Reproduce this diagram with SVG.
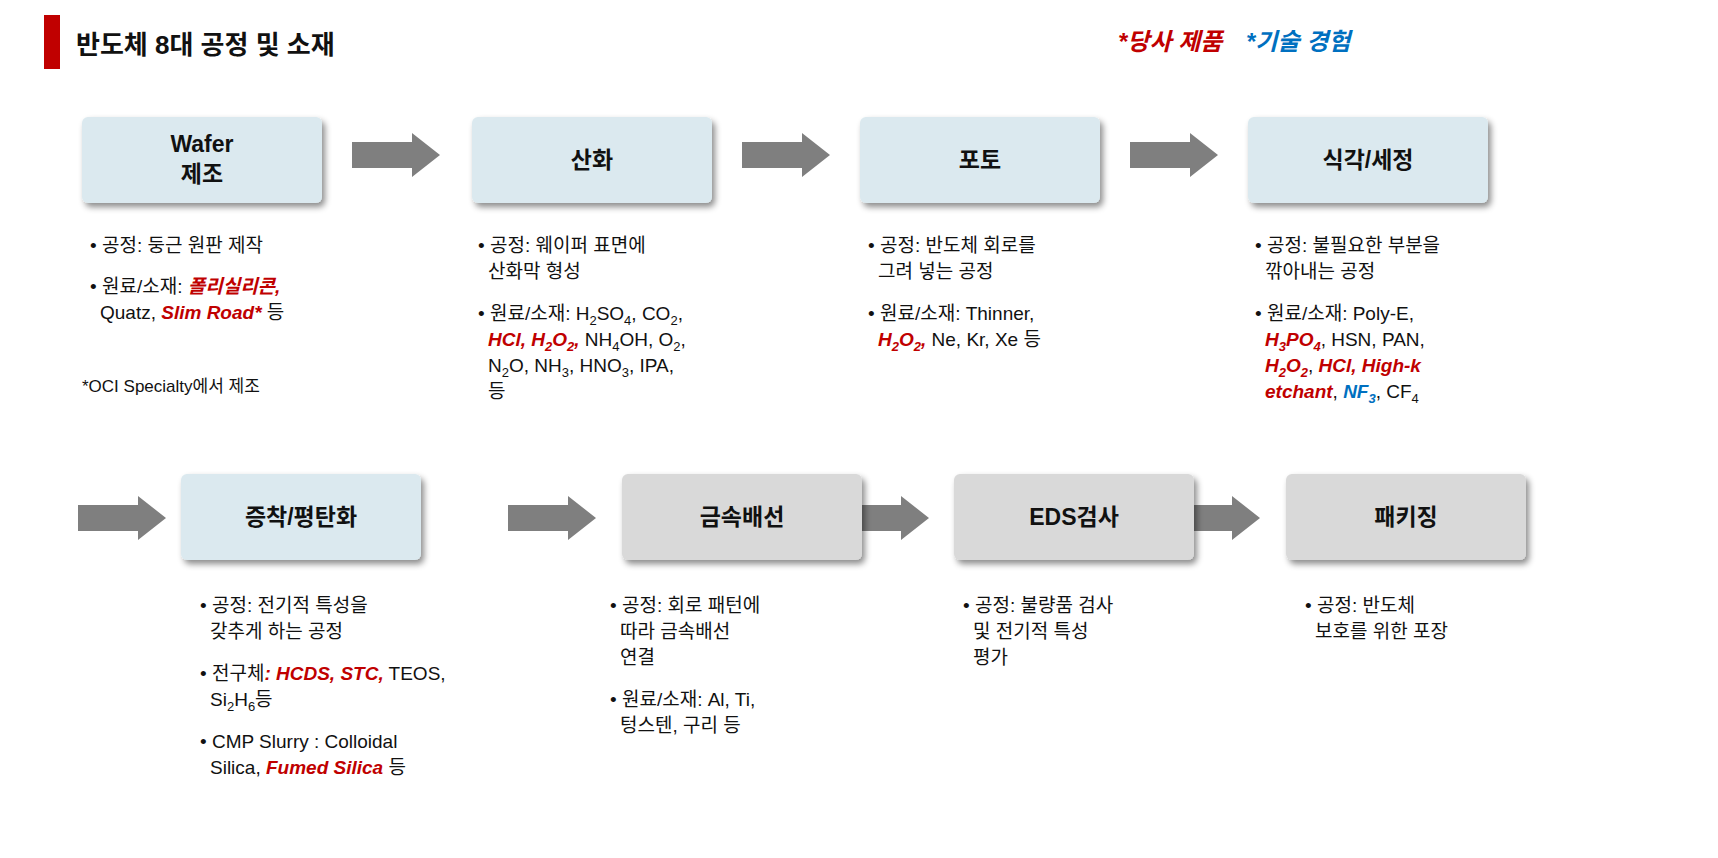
<svg xmlns="http://www.w3.org/2000/svg" width="1718" height="858" viewBox="0 0 1718 858">
<style>
text{font-family:"Liberation Sans","Noto Sans CJK KR",sans-serif;fill:#111}
.t{font-size:19px}
.lab{font-size:23px;font-weight:bold;text-anchor:middle}
.r{fill:#c00000;font-weight:bold;font-style:italic}
.b{fill:#0070c0;font-weight:bold;font-style:italic}
.blue{fill:#dbe9ef}
.gray{fill:#d9d9d9}
.arr{fill:#7f7f7f}
</style>
<defs>
<filter id="sh" x="-10%" y="-20%" width="125%" height="150%"><feDropShadow dx="3" dy="4" stdDeviation="3" flood-color="#000" flood-opacity="0.45"/></filter>
<path id="ar" d="M0,-13 H60 V-22 L88,0 L60,22 V13 H0 Z"/>
</defs>
<rect x="44" y="15" width="16" height="54" fill="#c00000"/>
<text x="76" y="54" style="font-size:26px;font-weight:bold">반도체 8대 공정 및 소재</text>
<text x="1118" y="50" class="r" style="font-size:24px">*당사 제품</text>
<text x="1246" y="50" class="b" style="font-size:24px">*기술 경험</text>

<g id="connectors">
<use href="#ar" class="arr" x="352" y="155"/>
<use href="#ar" class="arr" x="742" y="155"/>
<use href="#ar" class="arr" x="1130" y="155"/>
<use href="#ar" class="arr" x="78" y="518"/>
<use href="#ar" class="arr" x="508" y="518"/>
<use href="#ar" class="arr" x="841" y="518"/>
<use href="#ar" class="arr" x="1172" y="518"/>
</g>

<g id="n1"><rect x="82" y="117" width="240" height="86" rx="6" class="blue" filter="url(#sh)"/>
<text class="lab" x="202" y="152">Wafer</text><text class="lab" x="202" y="182">제조</text></g>
<g id="n2"><rect x="472" y="117" width="240" height="86" rx="6" class="blue" filter="url(#sh)"/>
<text class="lab" x="592" y="168">산화</text></g>
<g id="n3"><rect x="860" y="117" width="240" height="86" rx="6" class="blue" filter="url(#sh)"/>
<text class="lab" x="980" y="168">포토</text></g>
<g id="n4"><rect x="1248" y="117" width="240" height="86" rx="6" class="blue" filter="url(#sh)"/>
<text class="lab" x="1368" y="168">식각/세정</text></g>
<g id="n5"><rect x="181" y="474" width="240" height="86" rx="6" class="blue" filter="url(#sh)"/>
<text class="lab" x="301" y="525">증착/평탄화</text></g>
<g id="n6"><rect x="622" y="474" width="240" height="86" rx="6" class="gray" filter="url(#sh)"/>
<text class="lab" x="742" y="525">금속배선</text></g>
<g id="n7"><rect x="954" y="474" width="240" height="86" rx="6" class="gray" filter="url(#sh)"/>
<text class="lab" x="1074" y="525">EDS검사</text></g>
<g id="n8"><rect x="1286" y="474" width="240" height="86" rx="6" class="gray" filter="url(#sh)"/>
<text class="lab" x="1406" y="525">패키징</text></g>

<g id="d1" class="t">
<text x="90" y="252">• 공정: 둥근 원판 제작</text>
<text x="90" y="293">• 원료/소재: <tspan class="r">폴리실리콘,</tspan></text>
<text x="100" y="319">Quatz, <tspan class="r">Slim Road*</tspan> 등</text>
<text x="82" y="392" style="font-size:17px">*OCI Specialty에서 제조</text>
</g>
<g id="d2" class="t">
<text x="478" y="252">• 공정: 웨이퍼 표면에</text>
<text x="488" y="278">산화막 형성</text>
<text x="478" y="320">• 원료/소재: H<tspan dy="5" font-size="13">2</tspan><tspan dy="-5">SO</tspan><tspan dy="5" font-size="13">4</tspan><tspan dy="-5">, CO</tspan><tspan dy="5" font-size="13">2</tspan><tspan dy="-5">,</tspan></text>
<text x="488" y="346"><tspan class="r">HCl, H</tspan><tspan class="r" dy="5" font-size="13">2</tspan><tspan class="r" dy="-5">O</tspan><tspan class="r" dy="5" font-size="13">2</tspan><tspan class="r" dy="-5">,</tspan> NH<tspan dy="5" font-size="13">4</tspan><tspan dy="-5">OH, O</tspan><tspan dy="5" font-size="13">2</tspan><tspan dy="-5">,</tspan></text>
<text x="488" y="372">N<tspan dy="5" font-size="13">2</tspan><tspan dy="-5">O, NH</tspan><tspan dy="5" font-size="13">3</tspan><tspan dy="-5">, HNO</tspan><tspan dy="5" font-size="13">3</tspan><tspan dy="-5">, IPA,</tspan></text>
<text x="488" y="398">등</text>
</g>
<g id="d3" class="t">
<text x="868" y="252">• 공정: 반도체 회로를</text>
<text x="878" y="278">그려 넣는 공정</text>
<text x="868" y="320">• 원료/소재: Thinner,</text>
<text x="878" y="346"><tspan class="r">H</tspan><tspan class="r" dy="5" font-size="13">2</tspan><tspan class="r" dy="-5">O</tspan><tspan class="r" dy="5" font-size="13">2</tspan><tspan class="r" dy="-5">,</tspan> Ne, Kr, Xe 등</text>
</g>
<g id="d4" class="t">
<text x="1255" y="252">• 공정: 불필요한 부분을</text>
<text x="1265" y="278">깎아내는 공정</text>
<text x="1255" y="320">• 원료/소재: Poly-E,</text>
<text x="1265" y="346"><tspan class="r">H</tspan><tspan class="r" dy="5" font-size="13">3</tspan><tspan class="r" dy="-5">PO</tspan><tspan class="r" dy="5" font-size="13">4</tspan><tspan dy="-5">, HSN, PAN,</tspan></text>
<text x="1265" y="372"><tspan class="r">H</tspan><tspan class="r" dy="5" font-size="13">2</tspan><tspan class="r" dy="-5">O</tspan><tspan class="r" dy="5" font-size="13">2</tspan><tspan dy="-5">, </tspan><tspan class="r">HCl, High-k</tspan></text>
<text x="1265" y="398"><tspan class="r">etchant</tspan>, <tspan class="b">NF</tspan><tspan class="b" dy="5" font-size="13">3</tspan><tspan dy="-5">, CF</tspan><tspan dy="5" font-size="13">4</tspan></text>
</g>
<g id="d5" class="t">
<text x="200" y="612">• 공정: 전기적 특성을</text>
<text x="210" y="638">갖추게 하는 공정</text>
<text x="200" y="680">• 전구체<tspan class="r">: HCDS, STC,</tspan> TEOS,</text>
<text x="210" y="706">Si<tspan dy="5" font-size="13">2</tspan><tspan dy="-5">H</tspan><tspan dy="5" font-size="13">6</tspan><tspan dy="-5">등</tspan></text>
<text x="200" y="748">• CMP Slurry : Colloidal</text>
<text x="210" y="774">Silica, <tspan class="r">Fumed Silica</tspan> 등</text>
</g>
<g id="d6" class="t">
<text x="610" y="612">• 공정: 회로 패턴에</text>
<text x="620" y="638">따라 금속배선</text>
<text x="620" y="664">연결</text>
<text x="610" y="706">• 원료/소재: Al, Ti,</text>
<text x="620" y="732">텅스텐, 구리 등</text>
</g>
<g id="d7" class="t">
<text x="963" y="612">• 공정: 불량품 검사</text>
<text x="973" y="638">및 전기적 특성</text>
<text x="973" y="664">평가</text>
</g>
<g id="d8" class="t">
<text x="1305" y="612">• 공정: 반도체</text>
<text x="1315" y="638">보호를 위한 포장</text>
</g>
</svg>
